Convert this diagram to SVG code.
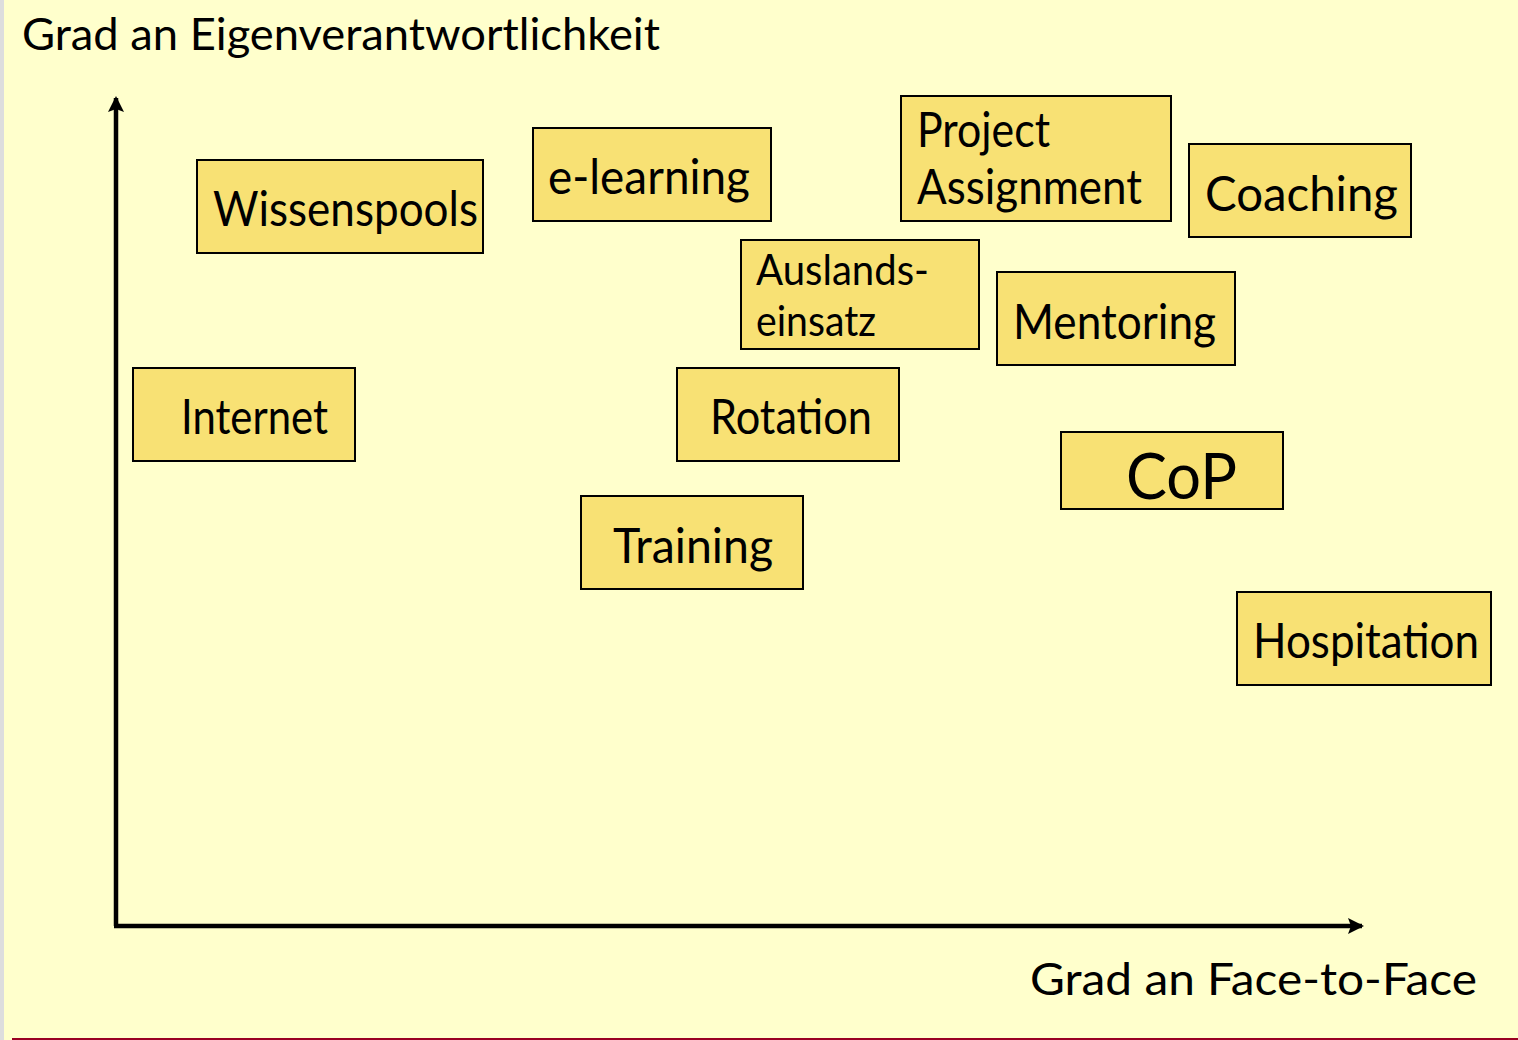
<svg xmlns="http://www.w3.org/2000/svg" width="1518" height="1040" viewBox="0 0 1518 1040">
<defs>
<style>
.bg{fill:#FFFFCC}
.box{fill:#F8E174;stroke:#000;stroke-width:2}
text{font-family:Lato,"Noto Sans","Liberation Sans",sans-serif;fill:#000}
.t{font-size:48px}
.ax{stroke:#000;stroke-width:4.5;fill:none}
</style>
<marker id="arr" viewBox="0 0 16 16" refX="14" refY="8" markerWidth="16" markerHeight="16" markerUnits="userSpaceOnUse" orient="auto">
<path d="M0,0 L16,8 L0,16 L3,8 Z" fill="#000"/>
</marker>
</defs>
<rect class="bg" x="0" y="0" width="1518" height="1040"/>
<rect x="0" y="0" width="4" height="1040" fill="#DDDDDD"/>
<rect x="12" y="1038" width="1506" height="2" fill="#990022"/>

<g id="title-y">
<text x="22" y="50" font-size="45" textLength="638" lengthAdjust="spacingAndGlyphs">Grad an Eigenverantwortlichkeit</text>
</g>
<g id="title-x">
<text x="1030" y="995" font-size="45" textLength="447" lengthAdjust="spacingAndGlyphs">Grad an Face-to-Face</text>
</g>

<g id="connectors">
<path class="ax" d="M116,926 L116,98" marker-end="url(#arr)"/>
<path class="ax" d="M114,926 L1362,926" marker-end="url(#arr)"/>
</g>

<g id="wissenspools">
<rect class="box" x="197" y="160" width="286" height="93"/>
<text class="t" x="213" y="226" textLength="265" lengthAdjust="spacingAndGlyphs">Wissenspools</text>
</g>
<g id="elearning">
<rect class="box" x="533" y="128" width="238" height="93"/>
<text class="t" x="548" y="194" textLength="202" lengthAdjust="spacingAndGlyphs">e-learning</text>
</g>
<g id="project">
<rect class="box" x="901" y="96" width="270" height="125"/>
<text class="t" x="917" y="147" textLength="133" lengthAdjust="spacingAndGlyphs">Project</text>
<text class="t" x="917" y="204" textLength="225" lengthAdjust="spacingAndGlyphs">Assignment</text>
</g>
<g id="coaching">
<rect class="box" x="1189" y="144" width="222" height="93"/>
<text class="t" x="1205" y="211" textLength="193" lengthAdjust="spacingAndGlyphs">Coaching</text>
</g>
<g id="auslands">
<rect class="box" x="741" y="240" width="238" height="109"/>
<text x="756" y="285" font-size="42" textLength="173" lengthAdjust="spacingAndGlyphs">Auslands-</text>
<text x="756" y="336" font-size="42" textLength="120" lengthAdjust="spacingAndGlyphs">einsatz</text>
</g>
<g id="mentoring">
<rect class="box" x="997" y="272" width="238" height="93"/>
<text class="t" x="1013" y="339" textLength="203" lengthAdjust="spacingAndGlyphs">Mentoring</text>
</g>
<g id="internet">
<rect class="box" x="133" y="368" width="222" height="93"/>
<text class="t" x="181" y="434" textLength="147" lengthAdjust="spacingAndGlyphs">Internet</text>
</g>
<g id="rotation">
<rect class="box" x="677" y="368" width="222" height="93"/>
<text class="t" x="710" y="434" textLength="162" lengthAdjust="spacingAndGlyphs">Rotation</text>
</g>
<g id="cop">
<rect class="box" x="1061" y="432" width="222" height="77"/>
<text x="1126" y="499" font-size="64" textLength="111" lengthAdjust="spacingAndGlyphs">CoP</text>
</g>
<g id="training">
<rect class="box" x="581" y="496" width="222" height="93"/>
<text class="t" x="613" y="563" textLength="160" lengthAdjust="spacingAndGlyphs">Training</text>
</g>
<g id="hospitation">
<rect class="box" x="1237" y="592" width="254" height="93"/>
<text class="t" x="1253" y="658" textLength="226" lengthAdjust="spacingAndGlyphs">Hospitation</text>
</g>
</svg>
